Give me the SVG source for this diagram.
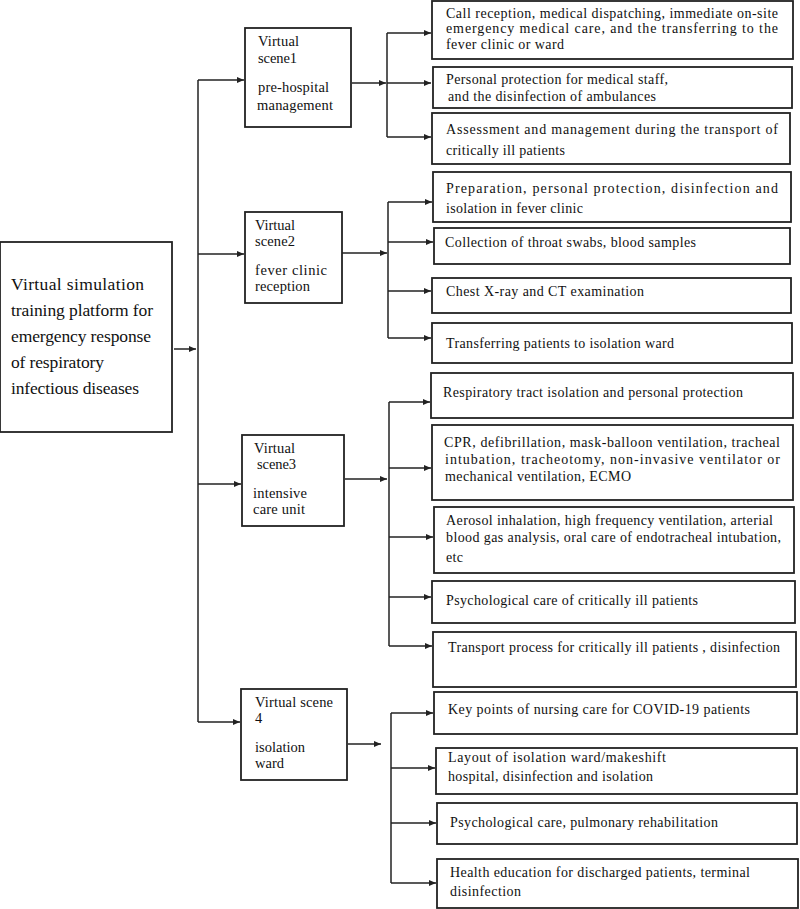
<svg xmlns="http://www.w3.org/2000/svg" width="800" height="909" viewBox="0 0 800 909">
<style>
.box{fill:#fff;stroke:#222;stroke-width:1.8}
.ln{fill:none;stroke:#222;stroke-width:1.5}
.ar{fill:none;stroke:#222;stroke-width:1.5;marker-end:url(#ah)}
text{font-family:"Liberation Serif","Times New Roman",serif;fill:#111}
.t{font-size:14px}
.s{font-size:14.5px}
.m{font-size:17.5px}
</style>
<defs>
<marker id="ah" markerUnits="userSpaceOnUse" markerWidth="8" markerHeight="8" refX="7" refY="3.5" orient="auto">
<path d="M0,0.5 L7,3.5 L0,6.5 Z" fill="#222"/>
</marker>
</defs>
<rect width="800" height="909" fill="#fff"/>

<g id="connectors">
<path class="ar" d="M174,349 H196"/>
<path class="ln" d="M198,80 V722"/>
<path class="ar" d="M198,80 H244"/>
<path class="ar" d="M198,254 H244"/>
<path class="ar" d="M198,484 H241"/>
<path class="ar" d="M198,722 H240"/>
<path class="ar" d="M352,83 H386"/>
<path class="ln" d="M387,33 V137"/>
<path class="ar" d="M387,33 H431"/>
<path class="ar" d="M387,83 H431"/>
<path class="ar" d="M387,137 H431"/>
<path class="ar" d="M342,253 H387"/>
<path class="ln" d="M388,202 V338"/>
<path class="ar" d="M388,202 H432"/>
<path class="ar" d="M388,242 H433"/>
<path class="ar" d="M388,291 H431"/>
<path class="ar" d="M388,338 H431"/>
<path class="ar" d="M345,479 H387"/>
<path class="ln" d="M389,402 V646"/>
<path class="ar" d="M389,402 H430"/>
<path class="ar" d="M389,468 H431"/>
<path class="ar" d="M389,537 H433"/>
<path class="ar" d="M389,597 H431"/>
<path class="ar" d="M389,646 H432"/>
<path class="ar" d="M348,744 H381"/>
<path class="ln" d="M391,713 V883"/>
<path class="ar" d="M391,713 H433"/>
<path class="ar" d="M391,768 H435"/>
<path class="ar" d="M391,823 H436"/>
<path class="ar" d="M391,883 H436"/>
</g>

<g id="main">
<rect class="box" x="0" y="242" width="172" height="190"/>
<text class="m" x="11" y="290" textLength="133" lengthAdjust="spacing">Virtual  simulation</text>
<text class="m" x="11" y="316" textLength="142" lengthAdjust="spacing">training platform for</text>
<text class="m" x="11" y="342" textLength="140" lengthAdjust="spacing">emergency response</text>
<text class="m" x="11" y="368" textLength="93" lengthAdjust="spacing">of respiratory</text>
<text class="m" x="11" y="394" textLength="128" lengthAdjust="spacing">infectious diseases</text>
</g>

<g id="scene1">
<rect class="box" x="245" y="28" width="106" height="99"/>
<text class="s" x="258" y="46" textLength="41" lengthAdjust="spacing">Virtual</text>
<text class="s" x="258" y="62.5" textLength="39" lengthAdjust="spacing">scene1</text>
<text class="s" x="258" y="92" textLength="71" lengthAdjust="spacing">pre-hospital</text>
<text class="s" x="257" y="110" textLength="76" lengthAdjust="spacing">management</text>
</g>

<g id="scene2">
<rect class="box" x="245" y="212" width="97" height="91"/>
<text class="s" x="255" y="229.5" textLength="40" lengthAdjust="spacing">Virtual</text>
<text class="s" x="255" y="245.5" textLength="40" lengthAdjust="spacing">scene2</text>
<text class="s" x="255" y="274.5" textLength="72" lengthAdjust="spacing">fever  clinic</text>
<text class="s" x="255" y="290.5" textLength="55" lengthAdjust="spacing">reception</text>
</g>

<g id="scene3">
<rect class="box" x="242" y="435" width="102" height="91"/>
<text class="s" x="254" y="452.5" textLength="41" lengthAdjust="spacing">Virtual</text>
<text class="s" x="257" y="468.5" textLength="39" lengthAdjust="spacing">scene3</text>
<text class="s" x="253" y="497.5" textLength="54" lengthAdjust="spacing">intensive</text>
<text class="s" x="253" y="513.5" textLength="52" lengthAdjust="spacing">care unit</text>
</g>

<g id="scene4">
<rect class="box" x="241" y="689" width="106" height="91"/>
<text class="s" x="255" y="707" textLength="78" lengthAdjust="spacing">Virtual  scene</text>
<text class="s" x="255" y="723">4</text>
<text class="s" x="255" y="752" textLength="50" lengthAdjust="spacing">isolation</text>
<text class="s" x="255" y="768" textLength="29" lengthAdjust="spacing">ward</text>
</g>

<g id="b1">
<rect class="box" x="432" y="1" width="361" height="58"/>
<text class="t" x="446" y="17.5" textLength="332" lengthAdjust="spacing">Call reception, medical dispatching, immediate on-site</text>
<text class="t" x="446" y="33" textLength="332" lengthAdjust="spacing">emergency medical care, and the transferring to the</text>
<text class="t" x="446" y="48.5" textLength="118" lengthAdjust="spacing">fever clinic or ward</text>
</g>
<g id="b2">
<rect class="box" x="433" y="67" width="359" height="41"/>
<text class="t" x="446" y="84" textLength="222" lengthAdjust="spacing">Personal protection for medical staff,</text>
<text class="t" x="448" y="101" textLength="208" lengthAdjust="spacing">and the disinfection of ambulances</text>
</g>
<g id="b3">
<rect class="box" x="432" y="113" width="358" height="51"/>
<text class="t" x="446" y="134" textLength="332" lengthAdjust="spacing">Assessment and management during the transport of</text>
<text class="t" x="446" y="155" textLength="119" lengthAdjust="spacing">critically ill patients</text>
</g>
<g id="b4">
<rect class="box" x="433" y="172" width="358" height="50"/>
<text class="t" x="446" y="193" textLength="332" lengthAdjust="spacing">Preparation, personal protection, disinfection and</text>
<text class="t" x="446" y="213" textLength="137" lengthAdjust="spacing">isolation in fever clinic</text>
</g>
<g id="b5">
<rect class="box" x="434" y="228" width="356" height="36"/>
<text class="t" x="445" y="247" textLength="251" lengthAdjust="spacing">Collection of throat swabs, blood samples</text>
</g>
<g id="b6">
<rect class="box" x="432" y="278" width="359" height="35"/>
<text class="t" x="446" y="296" textLength="198" lengthAdjust="spacing">Chest X-ray and CT examination</text>
</g>
<g id="b7">
<rect class="box" x="432" y="323" width="360" height="40"/>
<text class="t" x="446" y="348" textLength="228" lengthAdjust="spacing">Transferring patients to isolation ward</text>
</g>
<g id="b8">
<rect class="box" x="431" y="373" width="362" height="45"/>
<text class="t" x="443" y="397" textLength="300" lengthAdjust="spacing">Respiratory tract isolation and personal protection</text>
</g>
<g id="b9">
<rect class="box" x="432" y="425" width="361" height="75"/>
<text class="t" x="444" y="447" textLength="336" lengthAdjust="spacing">CPR, defibrillation, mask-balloon ventilation, tracheal</text>
<text class="t" x="445" y="464" textLength="335" lengthAdjust="spacing">intubation, tracheotomy, non-invasive ventilator or</text>
<text class="t" x="445" y="481" textLength="186" lengthAdjust="spacing">mechanical ventilation, ECMO</text>
</g>
<g id="b10">
<rect class="box" x="434" y="507" width="360" height="66"/>
<text class="t" x="446" y="525" textLength="327" lengthAdjust="spacing">Aerosol inhalation, high frequency ventilation, arterial</text>
<text class="t" x="446" y="542" textLength="335" lengthAdjust="spacing">blood gas analysis, oral care of endotracheal intubation,</text>
<text class="t" x="446" y="562" textLength="17" lengthAdjust="spacing">etc</text>
</g>
<g id="b11">
<rect class="box" x="432" y="581" width="363" height="42"/>
<text class="t" x="446" y="605" textLength="252" lengthAdjust="spacing">Psychological care of critically ill patients</text>
</g>
<g id="b12">
<rect class="box" x="433" y="632" width="363" height="55"/>
<text class="t" x="448" y="652" textLength="332" lengthAdjust="spacing">Transport process for critically ill patients , disinfection</text>
</g>
<g id="b13">
<rect class="box" x="434" y="692" width="363" height="42"/>
<text class="t" x="448" y="714" textLength="302" lengthAdjust="spacing">Key points of nursing care for COVID-19 patients</text>
</g>
<g id="b14">
<rect class="box" x="436" y="748" width="361" height="46"/>
<text class="t" x="448" y="762" textLength="218" lengthAdjust="spacing">Layout of isolation ward/makeshift</text>
<text class="t" x="448" y="781" textLength="205" lengthAdjust="spacing">hospital, disinfection and isolation</text>
</g>
<g id="b15">
<rect class="box" x="437" y="803" width="360" height="41"/>
<text class="t" x="450" y="827" textLength="268" lengthAdjust="spacing">Psychological care, pulmonary rehabilitation</text>
</g>
<g id="b16">
<rect class="box" x="437" y="859" width="361" height="49"/>
<text class="t" x="450" y="877" textLength="300" lengthAdjust="spacing">Health education for discharged patients, terminal</text>
<text class="t" x="450" y="896" textLength="71" lengthAdjust="spacing">disinfection</text>
</g>
</svg>
